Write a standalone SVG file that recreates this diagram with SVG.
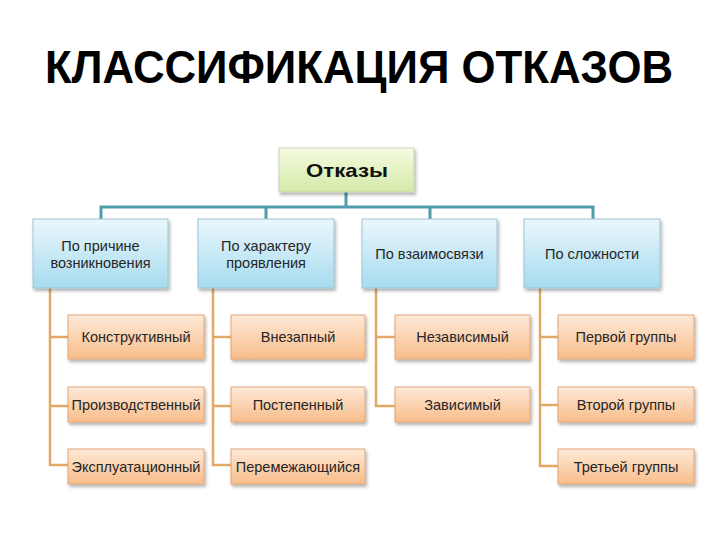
<svg xmlns="http://www.w3.org/2000/svg" width="720" height="540" viewBox="0 0 720 540">
<defs>
  <linearGradient id="gGreen" x1="0" y1="0" x2="0" y2="1">
    <stop offset="0" stop-color="#f6fbe0"/>
    <stop offset="1" stop-color="#d3eaa8"/>
  </linearGradient>
  <linearGradient id="gBlue" x1="0" y1="0" x2="0" y2="1">
    <stop offset="0" stop-color="#eaf7fc"/>
    <stop offset="1" stop-color="#a6dbef"/>
  </linearGradient>
  <linearGradient id="gOrange" x1="0" y1="0" x2="0" y2="1">
    <stop offset="0" stop-color="#fde9d8"/>
    <stop offset="1" stop-color="#f8bd8a"/>
  </linearGradient>
  <filter id="sh" x="-10%" y="-20%" width="125%" height="150%">
    <feDropShadow dx="1.5" dy="2.5" stdDeviation="1.8" flood-color="#000" flood-opacity="0.3"/>
  </filter>
</defs>
<style>
  .title { font-family: "Liberation Sans", Arial, sans-serif; font-weight: bold; font-size: 46px; fill: #000; }
  .root rect { fill: url(#gGreen); stroke: #c8d4b8; stroke-width: 1; filter: url(#sh); }
  .cat rect { fill: url(#gBlue); stroke: #9cc6d6; stroke-width: 1; filter: url(#sh); }
  .leaf rect { fill: url(#gOrange); stroke: #e1a678; stroke-width: 1; filter: url(#sh); }
  text.t { font-family: "Liberation Sans", Arial, sans-serif; font-size: 14.5px; fill: #262626; text-anchor: middle; }
  text.rt { font-family: "Liberation Sans", Arial, sans-serif; font-size: 19px; font-weight: bold; fill: #111; text-anchor: middle; }
  .teal { stroke: #4e9daa; stroke-width: 3; fill: none; }
  .orng { stroke: #e2a866; stroke-width: 2.5; fill: none; }
</style>
<rect width="720" height="540" fill="#fff"/>
<text class="title" x="45" y="83" textLength="628" lengthAdjust="spacingAndGlyphs">КЛАССИФИКАЦИЯ ОТКАЗОВ</text>

<g id="connectors">
  <path class="teal" d="M346 192 V207 M101 219 V207 H593 V219 M266 207 V219 M430 207 V219"/>
  <path class="orng" d="M50 288 V465 H68 M50 337 H68 M50 406 H68"/>
  <path class="orng" d="M213 288 V465 H231 M213 337 H231 M213 406 H231"/>
  <path class="orng" d="M376 288 V406 H395 M376 337 H395"/>
  <path class="orng" d="M540 288 V466 H558 M540 337 H558 M540 405 H558"/>
</g>

<g id="root" class="root">
  <rect x="279" y="148" width="135" height="44"/>
  <text class="rt" x="347" y="177" textLength="82" lengthAdjust="spacingAndGlyphs">Отказы</text>
</g>

<g id="cat1" class="cat">
  <rect x="33" y="219" width="135" height="69"/>
  <text class="t" x="100.5" y="251">По причине</text>
  <text class="t" x="100.5" y="268">возникновения</text>
</g>
<g id="cat2" class="cat">
  <rect x="198" y="219" width="136" height="69"/>
  <text class="t" x="266" y="251">По характеру</text>
  <text class="t" x="266" y="268">проявления</text>
</g>
<g id="cat3" class="cat">
  <rect x="362" y="219" width="135" height="69"/>
  <text class="t" x="429.5" y="259">По взаимосвязи</text>
</g>
<g id="cat4" class="cat">
  <rect x="524" y="219" width="136" height="69"/>
  <text class="t" x="592" y="259">По сложности</text>
</g>

<g id="l11" class="leaf"><rect x="68" y="315" width="136" height="44"/><text class="t" x="136" y="342">Конструктивный</text></g>
<g id="l12" class="leaf"><rect x="68" y="387" width="136" height="35"/><text class="t" x="136" y="410">Производственный</text></g>
<g id="l13" class="leaf"><rect x="68" y="449" width="136" height="35"/><text class="t" x="136" y="472">Эксплуатационный</text></g>

<g id="l21" class="leaf"><rect x="231" y="315" width="134" height="44"/><text class="t" x="298" y="342">Внезапный</text></g>
<g id="l22" class="leaf"><rect x="231" y="387" width="134" height="35"/><text class="t" x="298" y="410">Постепенный</text></g>
<g id="l23" class="leaf"><rect x="231" y="449" width="134" height="35"/><text class="t" x="298" y="472">Перемежающийся</text></g>

<g id="l31" class="leaf"><rect x="395" y="315" width="135" height="44"/><text class="t" x="462.5" y="342">Независимый</text></g>
<g id="l32" class="leaf"><rect x="395" y="387" width="135" height="35"/><text class="t" x="462.5" y="410">Зависимый</text></g>

<g id="l41" class="leaf"><rect x="558" y="315" width="136" height="44"/><text class="t" x="626" y="342">Первой группы</text></g>
<g id="l42" class="leaf"><rect x="558" y="387" width="136" height="35"/><text class="t" x="626" y="410">Второй группы</text></g>
<g id="l43" class="leaf"><rect x="558" y="449" width="136" height="35"/><text class="t" x="626" y="472">Третьей группы</text></g>
</svg>
